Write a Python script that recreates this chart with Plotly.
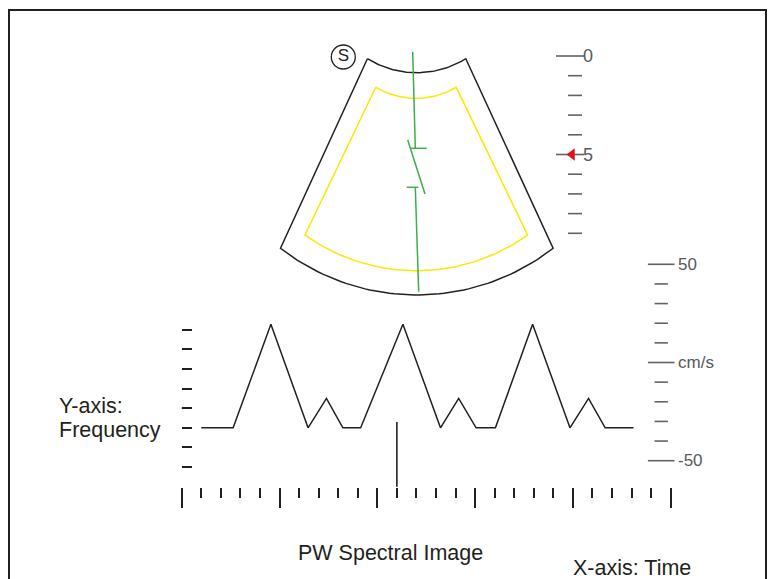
import numpy as np
import plotly.graph_objects as go

# page size; the plot div sits 8px in from the top-left of the page
W, H = 776, 579
OFF = 8
FW, FH = W - OFF, H - OFF
INK = "#231f20"
GREY = "#58595b"
FONT = "Liberation Sans, Arial, sans-serif"

# PW spectrum (time in tick steps, frequency in tick steps above the bracket)
spec_t = [1.0, 2.63, 4.56, 6.46, 7.40, 8.24, 9.15, 11.31, 13.23, 14.16, 15.05,
          16.04, 17.94, 19.85, 20.80, 21.65, 23.1]
spec_f = [3, 3, 8.27, 3, 4.5, 3, 3, 8.27, 3, 4.5, 3, 3, 8.27, 3, 4.5, 3, 3]

time_ticks = list(range(0, 26))
time_major = list(range(0, 26, 5))
freq_ticks = list(range(0, 10))

velocity_ticks = list(range(-50, 51, 10))
velocity_labels = {50: "50", 0: "cm/s", -50: "-50"}

depth_ticks = list(range(0, 10))
depth_labels = {0: "0", 5: "5"}
focus_depth = 5

# callouts: (time, freq) pairs, None separates segments
callout_t = [-2, 0, None, 11, 11, None, 22, 22]
callout_f = [4, 4, None, 3.3, -2.3, None, -1.1, -3.0]


def px_x(p):
    return (p - OFF) / FW


def px_y(p):
    return 1 - (p - OFF) / FH


def arc(cx, corner_y, half, sag, n=60):
    r = (half ** 2 + sag ** 2) / (2 * sag)
    cy = corner_y + sag - r
    a = np.arcsin(half / r)
    th = np.linspace(-a, a, n)
    return cx + r * np.sin(th), cy + r * np.cos(th)


def sector(cx_top, top, cx_bot, bottom):
    xt, yt = arc(cx_top, *top)
    xb, yb = arc(cx_bot, *bottom)
    xs = list(xt) + list(xb[::-1]) + [xt[0]]
    ys = list(yt) + list(yb[::-1]) + [yt[0]]
    return xs, ys


fig = go.Figure()

# probe sector
ox, oy = sector(416.6, (58.7, 49.2, 14.0), 416.8, (248.3, 136.3, 46.7))
fig.add_trace(go.Scatter(x=ox, y=oy, mode="lines", line=dict(color=INK, width=1.5),
                         hoverinfo="skip", cliponaxis=False))
ix, iy = sector(416.0, (87.3, 40.2, 11.0), 416.3, (235.0, 111.3, 35.7))
fig.add_trace(go.Scatter(x=ix, y=iy, mode="lines", line=dict(color="#ffe600", width=1.5),
                         hoverinfo="skip", cliponaxis=False))

# sample volume line
gx = [412.7, 415.3, None, 410, 426.7, None, 407.7, 425, None, 406.7, 418.3, None, 415.3, 418.7]
gy = [51.7, 148.3, None, 148.3, 148.3, None, 140, 194, None, 187.3, 187.3, None, 187.3, 291.7]
fig.add_trace(go.Scatter(x=gx, y=gy, mode="lines", line=dict(color="#3dae49", width=1.5),
                         hoverinfo="skip", cliponaxis=False))

# S marker
fig.add_trace(go.Scatter(x=[343.3], y=[57.0], mode="markers+text", text=["S"],
                         textposition="middle center",
                         textfont=dict(family=FONT, size=17, color=INK),
                         marker=dict(symbol="circle", size=24, color="white",
                                     line=dict(color=INK, width=1.3)),
                         hoverinfo="skip", cliponaxis=False))

# depth scale
dx = [570 if d in depth_labels else 575 for d in depth_ticks]
ds = [20 if d in depth_labels else 10 for d in depth_ticks]
fig.add_trace(go.Scatter(x=dx, y=depth_ticks, yaxis="y4", mode="markers",
                         marker=dict(symbol="line-ew", size=ds, line=dict(color=INK, width=1.6)),
                         hoverinfo="skip", cliponaxis=False))
fig.add_trace(go.Scatter(x=[572], y=[focus_depth], yaxis="y4", mode="markers",
                         marker=dict(symbol="triangle-left", size=11, color="#e3131b",
                                     line=dict(width=0)),
                         hoverinfo="skip", cliponaxis=False))

# velocity scale
vs = [19 if v in velocity_labels else 9.5 for v in velocity_ticks]
fig.add_trace(go.Scatter(x=[661.2] * len(velocity_ticks), y=velocity_ticks, yaxis="y3",
                         mode="markers",
                         marker=dict(symbol="line-ew", size=vs, line=dict(color=INK, width=1.6)),
                         hoverinfo="skip", cliponaxis=False))

# spectrum and callouts
fig.add_trace(go.Scatter(x=spec_t, y=spec_f, xaxis="x2", yaxis="y2", mode="lines",
                         line=dict(color=INK, width=1.5), hoverinfo="skip", cliponaxis=False))
fig.add_trace(go.Scatter(x=callout_t, y=callout_f, xaxis="x2", yaxis="y2", mode="lines",
                         line=dict(color=INK, width=1.6), hoverinfo="skip", cliponaxis=False))

annotations = []
for v, s in velocity_labels.items():
    annotations.append(dict(x=676, y=v, xref="x", yref="y3", text=s, showarrow=False,
                            xanchor="left", yanchor="middle",
                            font=dict(family=FONT, size=17, color=GREY)))
for d, s in depth_labels.items():
    annotations.append(dict(x=581, y=d, xref="x", yref="y4", text=s, showarrow=False,
                            xanchor="left", yanchor="middle",
                            font=dict(family=FONT, size=18, color=GREY)))

big = dict(family=FONT, size=21.5, color=INK)
for txt, x, y, xa in [("Y-axis:", 57, 406, "left"), ("Frequency", 57, 430, "left"),
                      ("PW Spectral Image", 390, 553, "center"),
                      ("X-axis: Time", 632, 568, "center")]:
    annotations.append(dict(x=x, y=y, xref="x", yref="y", text=txt, showarrow=False,
                            xanchor=xa, yanchor="middle", font=big))

# frame (the page only shows up to about x=768)
fig.add_shape(type="rect", xref="x", yref="y", x0=9, x1=766, y0=10, y1=H + 10,
              line=dict(color=INK, width=2))

hidden = dict(visible=False, showgrid=False, zeroline=False)
fig.update_layout(
    width=FW, height=FH,
    margin=dict(l=0, r=0, t=0, b=0),
    paper_bgcolor="white", plot_bgcolor="rgba(0,0,0,0)",
    showlegend=False,
    annotations=annotations,
    xaxis=dict(range=[OFF, W], domain=[0, 1], **hidden),
    yaxis=dict(range=[H, OFF], domain=[0, 1], **hidden),
    xaxis2=dict(domain=[px_x(181.7), px_x(670.7)], range=[0, 25], anchor="y2",
                showgrid=False, zeroline=False, showline=False, showticklabels=False,
                ticks="outside", tickmode="array", tickvals=time_major, ticklen=20,
                tickwidth=1.6, tickcolor=INK,
                minor=dict(tickmode="array", tickvals=time_ticks, ticks="outside",
                           ticklen=10, tickwidth=1.6, tickcolor=INK, showgrid=False)),
    yaxis2=dict(domain=[px_y(486.7), px_y(310.0)], range=[0, 9], anchor="x2",
                showgrid=False, zeroline=False, showline=False, showticklabels=False,
                ticks="inside", tickmode="array", tickvals=freq_ticks, ticklen=10,
                tickwidth=1.6, tickcolor=INK),
    yaxis3=dict(domain=[px_y(460.7), px_y(264.3)], range=[-50, 50], anchor="x", **hidden),
    yaxis4=dict(domain=[px_y(233.3), px_y(56.0)], range=[9, 0], anchor="x", **hidden),
)

fig.write_html("out.html")
